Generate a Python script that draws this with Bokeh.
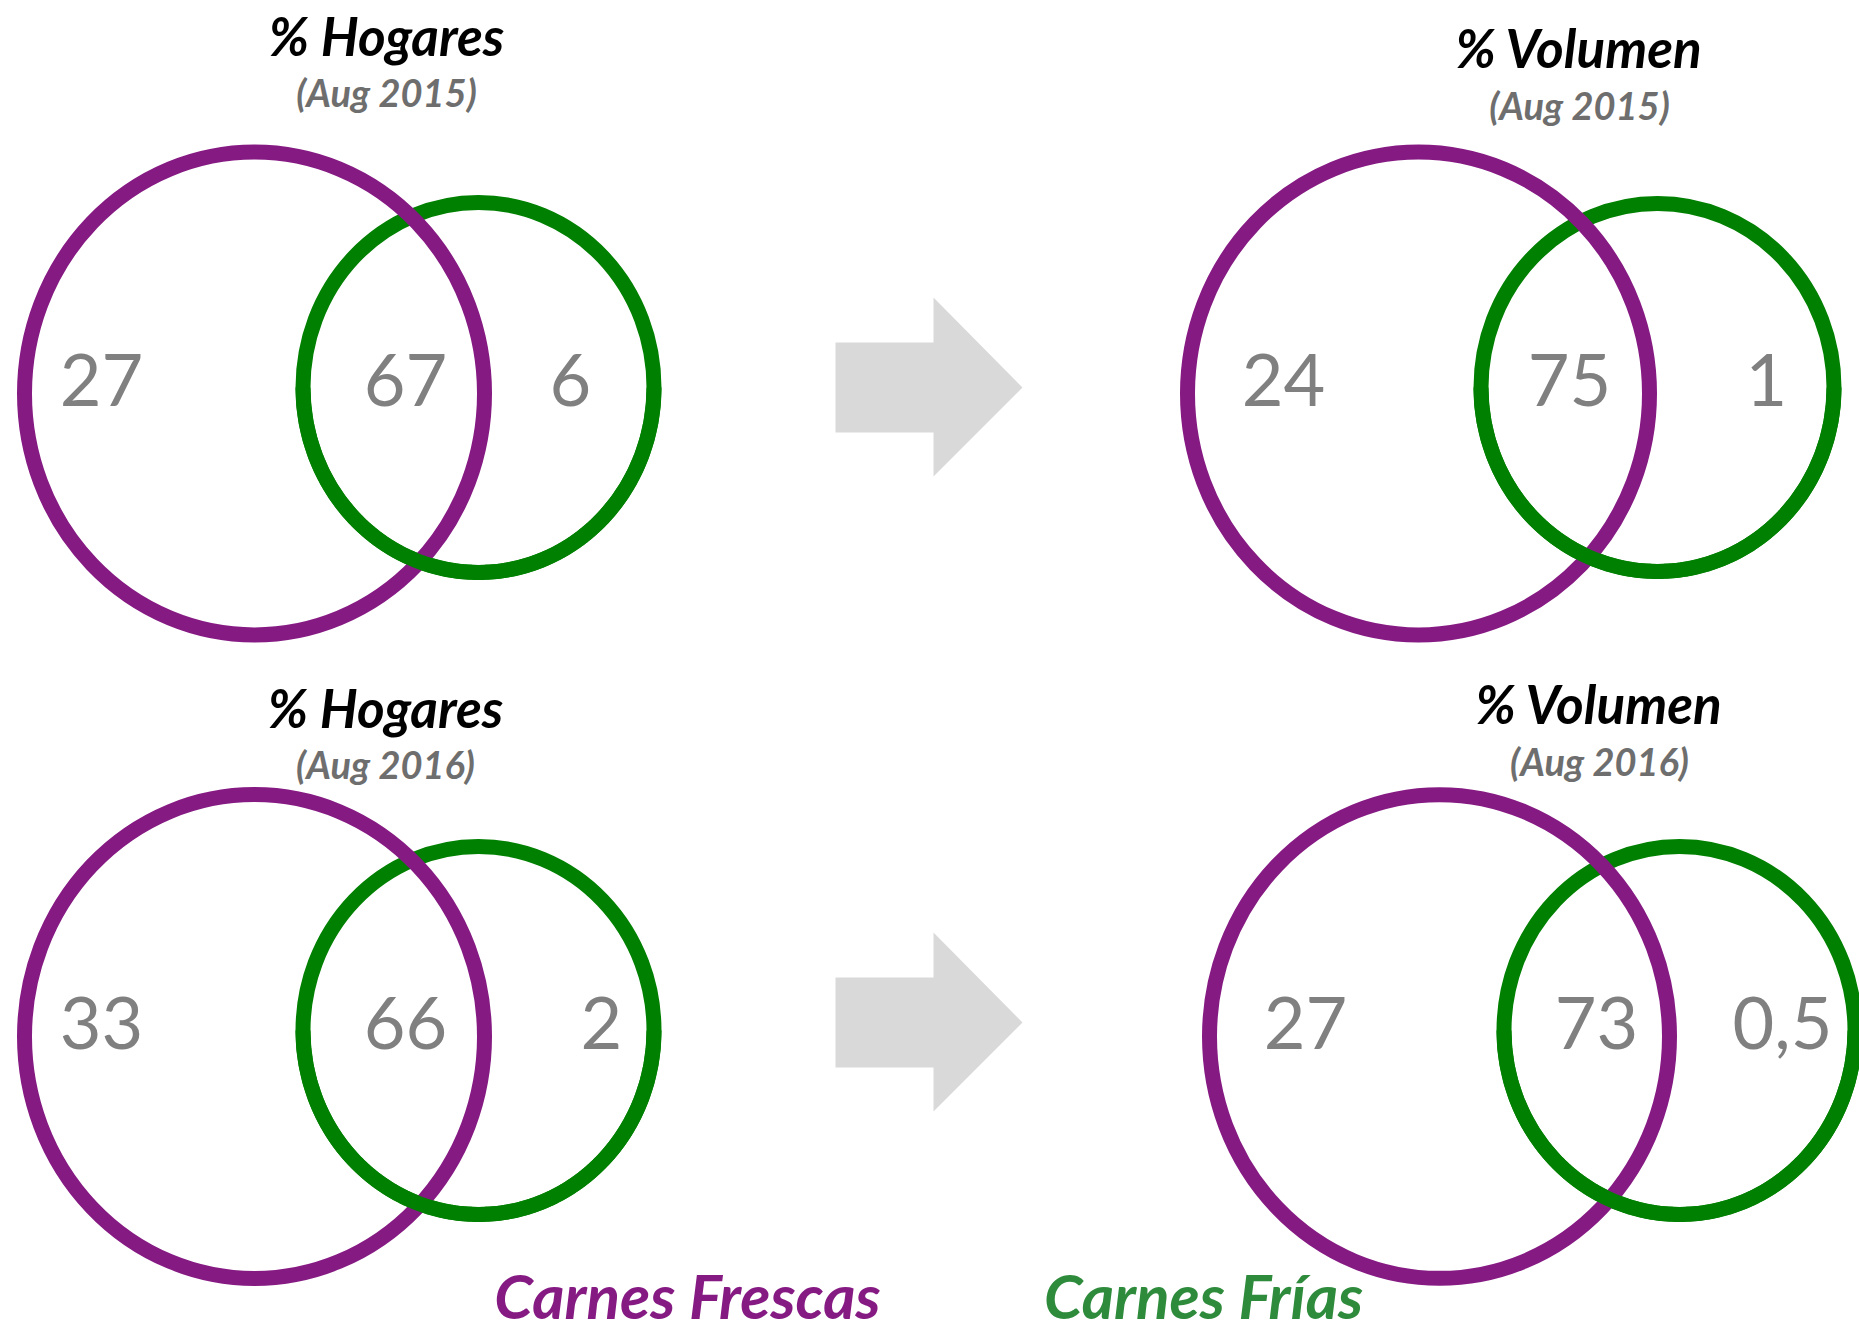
import numpy as np
from bokeh.plotting import figure
from bokeh.models import Range1d, ColumnDataSource
from bokeh.core.properties import value
from bokeh.embed import file_html
from bokeh.resources import INLINE

# ---------------- data ----------------
panel_titles = ["% Hogares", "% Volumen", "% Hogares", "% Volumen"]
panel_periods = ["(Aug 2015)", "(Aug 2015)", "(Aug 2016)", "(Aug 2016)"]
only_frescas = ["27", "24", "33", "27"]
both_types = ["67", "75", "66", "73"]
only_frias = ["6", "1", "2", "0,5"]
legend_labels = ["Carnes Frescas", "Carnes Frías"]

# ---------------- layout ----------------
W, H = 1859, 1330
PURPLE = "#861A83"
GREEN = "#008000"
LEG_GREEN = "#2E8B3C"
NUM_GRAY = "#808080"
SUB_GRAY = "#6E6E6E"
ARROW = "#D9D9D9"
FONT = "Lato"

# per panel: purple centre, purple size, green centre, green size
purple_cx = [254, 1418, 254, 1439]
purple_cy = [393, 393, 1036, 1036]
purple_w = [460, 462, 460, 460]
purple_h = [483, 483, 484, 484]
green_cx = [478, 1657, 478, 1679]
green_cy = [387, 387, 1030, 1030]
green_w = [351, 353, 351, 351]
green_h = [370, 368, 368, 368]
num_y = [379, 379, 1022, 1022]
num_x_left = [101, 1283, 101, 1305]
num_x_mid = [405, 1569, 405, 1596]
num_x_right = [570, 1766, 601, 1782]
title_x = [386, 1579, 385, 1599]
title_y = [35, 47, 707, 703]
sub_y = [91, 104, 763, 760]
arrow_dy = [0, 635]
legend_x = [687, 1203]
legend_y = [1294, 1294]
legend_colors = [PURPLE, LEG_GREEN]

p = figure(width=W, height=H, x_range=Range1d(0, W), y_range=Range1d(H, 0),
           output_backend="svg", toolbar_location=None, min_border=0)
p.axis.visible = False
p.grid.visible = False
p.outline_line_color = None
p.background_fill_color = "white"
p.border_fill_color = "white"

LW = 15
# green circles
p.ellipse(x=green_cx, y=green_cy, width=green_w, height=green_h,
          fill_alpha=0, line_color=GREEN, line_width=LW)
# purple circles
p.ellipse(x=purple_cx, y=purple_cy, width=purple_w, height=purple_h,
          fill_alpha=0, line_color=PURPLE, line_width=LW)
# lower half of green drawn on top (green passes over purple at the bottom crossing)
t = np.linspace(0.0, np.pi, 200)
for i in range(4):
    xs = green_cx[i] + green_w[i] / 2 * np.cos(t)
    ys = green_cy[i] + green_h[i] / 2 * np.sin(t)
    p.line(xs, ys, line_color=GREEN, line_width=LW)

# arrows
for dy in arrow_dy:
    ax = [835, 933, 933, 1022, 933, 933, 835]
    ay = [342, 342, 297, 387, 476, 432, 432]
    p.patch(ax, [v + dy for v in ay], fill_color=ARROW, line_color=None)

# numbers
num_src = ColumnDataSource(dict(
    x=num_x_left + num_x_mid + num_x_right,
    y=num_y * 3,
    t=only_frescas + both_types + only_frias))
p.text(x="x", y="y", text="t", source=num_src, text_font=value(FONT),
       text_font_size="72px", text_color=NUM_GRAY, text_align="center",
       text_baseline="middle")

# titles
p.text(x=title_x, y=title_y, text=panel_titles, text_font=value(FONT),
       text_font_size="53px", text_font_style="bold italic", text_color="black",
       text_align="center", text_baseline="middle")
p.text(x=title_x, y=sub_y, text=panel_periods, text_font=value(FONT),
       text_font_size="38px", text_font_style="bold italic", text_color=SUB_GRAY,
       text_align="center", text_baseline="middle")

# legend labels
p.text(x=legend_x, y=legend_y, text=legend_labels, text_font=value(FONT),
       text_font_size="62px", text_font_style="bold italic", text_color=legend_colors,
       text_align="center", text_baseline="middle")

open("out.html", "w").write(file_html(p, INLINE))
